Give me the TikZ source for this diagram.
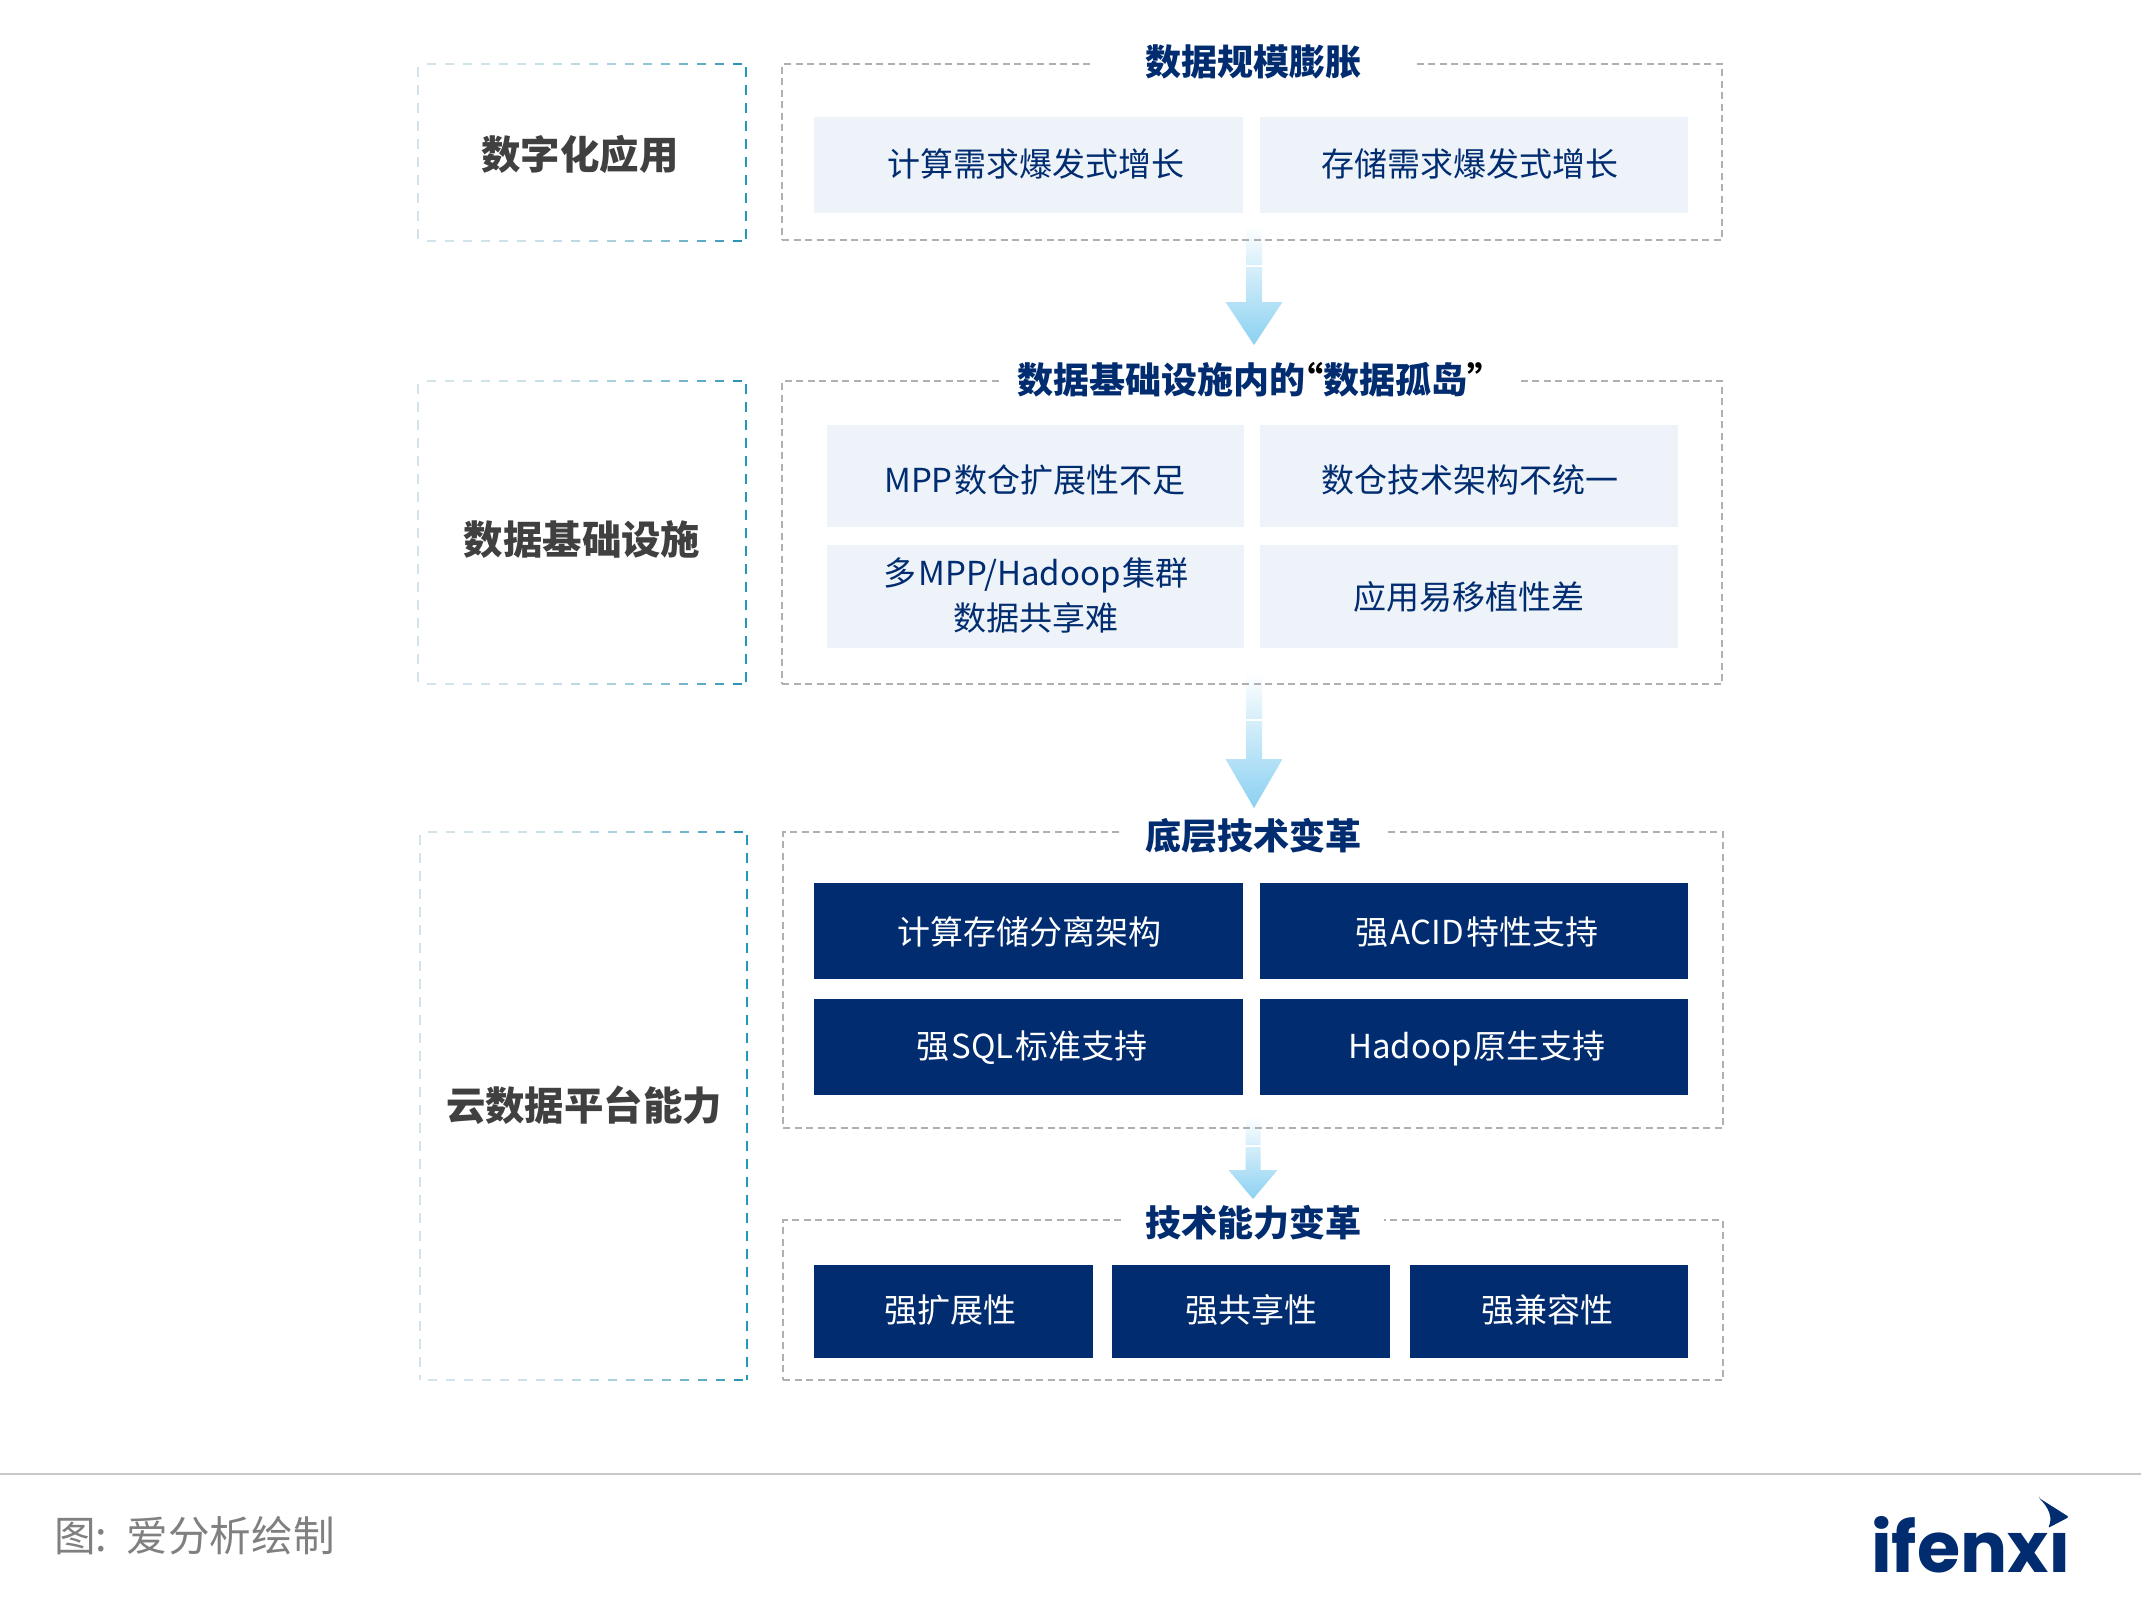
\documentclass[tikz,border=0pt]{standalone}
\usepackage{fontspec}
\setmainfont{Noto Sans CJK SC}
\newfontfamily\logofont{Poppins}
\usetikzlibrary{calc}
\definecolor{navy}{HTML}{012C70}
\definecolor{pale}{HTML}{EDF3F9}
\definecolor{dashgray}{HTML}{B0B0B0}
\definecolor{tealA}{HTML}{D2E4EA}
\definecolor{tealB}{HTML}{2690B4}
\definecolor{tealC}{HTML}{1F9AB8}
\definecolor{arrowend}{HTML}{8BD1F1}
\definecolor{lefttext}{HTML}{404040}
\newcommand{\latgap}{\hspace{2pt}}
\tikzset{
  x=1pt,y=-1pt,
  boxbase/.style={inner sep=0pt,outer sep=0pt,anchor=center},
  groupbox/.style={boxbase,draw=dashgray,line width=1.2pt,dash pattern=on 7pt off 4.5pt},
  leftframe/.style={boxbase},
  lightcell/.style={boxbase,fill=pale},
  darkcell/.style={boxbase,fill=navy},
  blank/.style={boxbase,fill=white},
  lighttext/.style={inner sep=0pt,text=navy,font=\fontsize{33}{45}\selectfont,align=center},
  darktext/.style={inner sep=0pt,text=white,font=\fontsize{33}{45}\selectfont,align=center},
  titlefont/.style={inner sep=0pt,text=navy,font=\fontsize{36}{44}\selectfont\bfseries},
  titletext/.style={titlefont,fill=white,minimum height=44pt},
  sidetext/.style={inner sep=0pt,text=lefttext,font=\fontsize{39.4}{46}\selectfont\bfseries},
  dashflat/.style={line width=1.5pt},
  dashtall/.style={line width=1.1pt},
  fatarrow/.style={top color=white,bottom color=arrowend,draw=none},
  seam/.style={draw=white,line width=1.3pt}
}
% rectangle node from corners
\newcommand{\rectnode}[6]{%
  \pgfmathsetmacro{\rw}{#5-#3}\pgfmathsetmacro{\rh}{#6-#4}%
  \node[#1,minimum width=\rw pt,minimum height=\rh pt] (#2) at ({(#3+#5)/2},{(#4+#6)/2}) {};}
% side frame: dashes fade from pale (left) to teal (right)
\newcommand{\sideframe}[5]{%
  \rectnode{leftframe}{#1}{#2}{#3}{#4}{#5}%
  \pgfmathsetmacro{\fw}{#4-#2}\pgfmathtruncatemacro{\fn}{floor((\fw-4)/18)}%
  \foreach \i in {0,...,\fn}{%
    \pgfmathsetmacro{\dx}{#4-4-\i*18}\pgfmathsetmacro{\dy}{max(\dx-9,#2)}%
    \pgfmathsetmacro{\pc}{(\dx-#2)/\fw}%
    \pgfmathsetmacro{\pd}{100*\pc*\pc*\pc}%
    \draw[dashflat,draw=tealB!\pd!tealA] (\dx,#3) -- (\dy,#3);
    \draw[dashflat,draw=tealB!\pd!tealA] (\dx,#5) -- (\dy,#5);
  }%
  \pgfmathsetmacro{\fh}{#5-#3}\pgfmathtruncatemacro{\fm}{floor((\fh-3)/18)}%
  \foreach \i in {0,...,\fm}{%
    \pgfmathsetmacro{\dx}{#3+3+\i*18}\pgfmathsetmacro{\dy}{min(\dx+10,#5)}%
    \draw[dashtall,draw=tealC] (#4,\dx) -- (#4,\dy);
    \draw[dashtall,draw=tealA] (#2,\dx) -- (#2,\dy);
  }}
% shaded block arrow between two named coordinates: shaft half, head half, head height
\newcommand{\blockarrow}[5]{%
  \shade[fatarrow] ([xshift=-#3pt]#1) -- ([xshift=#3pt]#1) -- ([xshift=#3pt,yshift=#5pt]#2)
   -- ([xshift=#4pt,yshift=#5pt]#2) -- (#2) -- ([xshift=-#4pt,yshift=#5pt]#2)
   -- ([xshift=-#3pt,yshift=#5pt]#2) -- cycle;}
\begin{document}
\begin{tikzpicture}
\useasboundingbox (0,0) rectangle (2141,1623);
\fill[white] (0,0) rectangle (2141,1623);

% arrows
\coordinate (a1s) at (1254,225); \coordinate (a1e) at (1254,345);
\coordinate (a2s) at (1254,672); \coordinate (a2e) at (1254,808);
\coordinate (a3s) at (1253,1116); \coordinate (a3e) at (1253,1199);
\blockarrow{a1s}{a1e}{8}{28.5}{43}
\blockarrow{a2s}{a2e}{8}{28.5}{49}
\blockarrow{a3s}{a3e}{7.5}{24.5}{29}
\draw[seam] (1244,266) -- (1264,266);
\draw[seam] (1244,720) -- (1264,720);
\draw[seam] (1244,1146) -- (1262,1146);

% side frames
\sideframe{sideA}{418}{64}{746}{241}
\sideframe{sideB}{418}{381}{746}{684}
\sideframe{sideC}{420}{832}{747}{1380}
\node[sidetext] (sideAt) at (580,154) {数字化应用};
\node[sidetext] (sideBt) at (582,540) {数据基础设施};
\node[sidetext] (sideCt) at (584,1105) {云数据平台能力};

% group frames
\rectnode{groupbox}{groupA}{782}{64}{1722}{240}
\rectnode{groupbox}{groupB}{782}{381}{1722}{684}
\rectnode{groupbox}{groupC}{783}{832}{1723}{1128}
\rectnode{groupbox}{groupD}{783}{1220}{1723}{1380}

% titles
\node[titletext,minimum width=319pt] (titleA) at (1253,62) {数据规模膨胀};
\rectnode{blank}{titleBgap}{1003}{358}{1518}{402}
\node[titlefont] (titleB) at (1260.5,380) {数据基础设施内的\hspace{-18pt}{\color{black}“}数据孤岛{\color{black}”}};
\node[titletext,minimum width=262pt] (titleC) at (1253,836) {底层技术变革};
\node[titletext,minimum width=261pt] (titleD) at (1253,1223) {技术能力变革};

% cells
\rectnode{lightcell}{c1}{814}{117}{1243}{213}
\rectnode{lightcell}{c2}{1260}{117}{1688}{213}
\node[lighttext] (t1) at (1035.5,164) {计算需求爆发式增长};
\node[lighttext] (t2) at (1470,164) {存储需求爆发式增长};

\rectnode{lightcell}{c3}{826.5}{425}{1244}{527}
\rectnode{lightcell}{c4}{1260}{425}{1677.5}{527}
\rectnode{lightcell}{c5}{826.5}{545}{1244}{648}
\rectnode{lightcell}{c6}{1260}{545}{1677.5}{648}
\node[lighttext] (t3) at (1035,480) {MPP\latgap 数仓扩展性不足};
\node[lighttext] (t4) at (1470,480) {数仓技术架构不统一};
\node[lighttext] (t5) at (1036,595) {多\latgap MPP/Hadoop\latgap 集群\\数据共享难};
\node[lighttext] (t6) at (1469,597) {应用易移植性差};

\rectnode{darkcell}{c7}{814}{883}{1243}{979}
\rectnode{darkcell}{c8}{1260}{883}{1688}{979}
\rectnode{darkcell}{c9}{814}{999}{1243}{1095}
\rectnode{darkcell}{c10}{1260}{999}{1688}{1095}
\node[darktext] (t7) at (1029.5,932) {计算存储分离架构};
\node[darktext] (t8) at (1477,932) {强\latgap ACID\latgap 特性支持};
\node[darktext] (t9) at (1032,1048) {强\latgap SQL\latgap 标准支持};
\node[darktext] (t10) at (1477,1048) {Hadoop\latgap 原生支持};

\rectnode{darkcell}{c11}{814}{1265}{1093}{1358}
\rectnode{darkcell}{c12}{1112}{1265}{1390}{1358}
\rectnode{darkcell}{c13}{1410}{1265}{1688}{1358}
\node[darktext] (t11) at (950,1310) {强扩展性};
\node[darktext] (t12) at (1251,1310) {强共享性};
\node[darktext] (t13) at (1547,1310) {强兼容性};

% footer
\coordinate (footL) at (0,1474); \coordinate (footR) at (2141,1474);
\draw[draw=black!22,line width=2.5pt] (footL) -- (footR);
\node[anchor=west,inner sep=0pt,text=black!50,font=\fontsize{41.6}{48}\selectfont] (source) at (54,1536) {图:\hspace{7pt} 爱分析绘制};
\node[anchor=base west,inner sep=0pt,text=navy,font=\logofont\bfseries\fontsize{70}{80}\selectfont] (logo) at (1871,1572) {ifenxı};
\fill[navy,rounded corners=1.5pt] (2039,1498) -- (2069,1517) -- (2048,1528) .. controls (2053,1518) and (2049,1508) .. cycle;
\end{tikzpicture}
\end{document}
